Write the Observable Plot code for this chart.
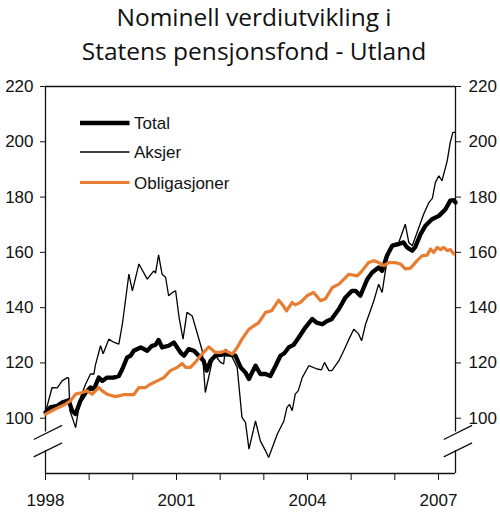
<!DOCTYPE html>
<html>
<head>
<meta charset="utf-8">
<script src="https://cdn.jsdelivr.net/npm/d3@7"></script>
<script src="https://cdn.jsdelivr.net/npm/@observablehq/plot@0.6"></script>
<style>
  body { margin: 0; background: #fff; }
  #wrap { position: relative; width: 500px; height: 512px; }
  #title { height: 70px; font-family: "Open Sans", sans-serif; font-size: 24.5px; line-height: 33.5px;
           text-align: center; color: #111; padding-left: 8px; }
  #legend { position: absolute; left: 0; top: 0; pointer-events: none; }
</style>
</head>
<body>
<div id="wrap">
  <div id="title">Nominell verdiutvikling i<br>Statens pensjonsfond - Utland</div>
  <div id="chart"></div>
  <svg id="legend" width="500" height="220"></svg>
</div>
<script>
// values (decimal year, index value)
const aksjerT = [1998.00,1998.15,1998.27,1998.38,1998.50,1998.53,1998.56,1998.65,1998.69,1998.80,1998.92,1999.03,1999.11,1999.14,1999.26,1999.32,1999.45,1999.56,1999.68,1999.76,1999.91,1999.99,2000.14,2000.33,2000.48,2000.52,2000.59,2000.67,2000.75,2000.82,2000.91,2000.98,2001.06,2001.15,2001.24,2001.36,2001.47,2001.59,2001.66,2001.82,2001.89,2002.01,2002.08,2002.12,2002.24,2002.39,2002.50,2002.58,2002.66,2002.81,2002.92,2003.04,2003.11,2003.31,2003.46,2003.53,2003.59,2003.65,2003.72,2003.79,2003.88,2004.03,2004.22,2004.32,2004.39,2004.49,2004.56,2004.72,2004.83,2004.95,2005.06,2005.17,2005.24,2005.33,2005.44,2005.52,2005.63,2005.71,2005.82,2005.94,2006.09,2006.24,2006.32,2006.40,2006.51,2006.66,2006.78,2006.86,2006.93,2007.01,2007.08,2007.20,2007.27,2007.33,2007.37];
const aksjerV = [102.1,111.1,111.0,113.5,114.7,114.5,102.7,98.5,96.6,107.5,112.4,116.0,116.0,119.0,126.2,123.3,128.6,127.5,126.8,134.0,152.1,146.1,155.8,150.3,153.3,152.5,159.1,152.1,151.0,144.3,145.5,146.1,136.4,128.6,138.3,137.0,131.0,124.4,109.3,120.8,122.6,120.2,119.6,125.0,123.2,118.4,100.3,98.5,88.8,99.0,91.8,88.2,85.8,94.3,99.0,103.9,105.0,102.7,108.7,110.0,114.7,119.0,117.8,117.5,120.2,117.2,117.2,120.8,124.4,128.6,132.2,130.5,128.0,134.0,138.9,142.5,148.5,145.5,157.0,163.0,163.6,170.2,163.6,162.4,167.2,173.8,178.0,179.5,185.3,187.7,185.9,193.1,199.8,203.4,203.4];

const totalT = [1998.00,1998.11,1998.27,1998.38,1998.53,1998.61,1998.69,1998.80,1998.92,1999.03,1999.11,1999.22,1999.30,1999.41,1999.56,1999.68,1999.76,1999.87,1999.95,2000.02,2000.18,2000.33,2000.44,2000.52,2000.59,2000.67,2000.82,2000.94,2001.09,2001.17,2001.28,2001.40,2001.51,2001.62,2001.69,2001.78,2001.89,2002.12,2002.35,2002.47,2002.58,2002.66,2002.73,2002.81,2002.92,2003.04,2003.15,2003.27,2003.38,2003.47,2003.57,2003.68,2003.80,2003.95,2004.11,2004.21,2004.34,2004.45,2004.55,2004.72,2004.87,2005.02,2005.10,2005.21,2005.37,2005.48,2005.63,2005.71,2005.82,2005.94,2006.09,2006.20,2006.28,2006.40,2006.47,2006.59,2006.70,2006.85,2007.01,2007.16,2007.27,2007.35,2007.39];
const totalV = [102.1,103.9,104.5,105.7,106.5,102.7,101.5,106.3,109.3,111.1,110.5,114.7,113.5,114.7,114.7,115.3,117.8,122.0,122.6,124.4,125.6,124.4,126.2,126.5,128.3,125.6,126.2,127.4,123.8,122.6,125.0,124.4,122.6,120.8,117.2,120.8,122.6,123.2,122.6,118.4,116.5,114.2,116.5,119.0,116.0,116.0,115.3,119.0,122.6,123.5,125.6,126.5,129.2,132.8,135.9,134.6,134.0,135.2,135.8,139.5,143.7,146.1,146.1,144.3,150.3,152.7,154.5,153.3,158.8,162.4,163.0,163.6,161.8,160.6,162.0,166.6,169.6,172.0,173.2,175.6,178.7,178.9,178.0];

const obligT = [1998.00,1998.15,1998.30,1998.46,1998.57,1998.69,1998.84,1998.95,1999.07,1999.22,1999.30,1999.41,1999.60,1999.79,2000.02,2000.14,2000.29,2000.40,2000.56,2000.71,2000.86,2001.02,2001.13,2001.21,2001.32,2001.43,2001.55,2001.74,2001.89,2002.01,2002.12,2002.28,2002.39,2002.50,2002.66,2002.77,2002.88,2003.04,2003.18,2003.34,2003.43,2003.52,2003.65,2003.72,2003.84,2003.99,2004.14,2004.30,2004.41,2004.57,2004.72,2004.95,2005.14,2005.25,2005.40,2005.52,2005.63,2005.75,2005.86,2006.01,2006.13,2006.24,2006.36,2006.51,2006.63,2006.74,2006.82,2006.89,2006.97,2007.05,2007.12,2007.20,2007.27,2007.35];
const obligV = [101.5,102.7,103.9,105.1,106.3,108.7,109.3,109.9,108.7,111.1,109.9,108.7,107.8,108.5,108.5,111.1,111.1,112.3,113.5,114.7,117.2,118.4,119.8,118.4,118.4,120.2,122.6,125.8,123.8,123.8,124.4,123.2,125.6,128.6,132.2,133.4,134.5,138.3,138.9,142.7,141.0,138.8,141.9,141.0,141.9,144.3,145.5,142.5,143.2,147.3,148.5,152.1,151.5,153.3,156.3,157.0,156.3,155.2,156.3,156.3,155.8,154.0,154.3,157.0,158.8,159.0,161.2,160.0,161.8,161.0,161.8,160.6,161.0,159.4];

const yTicks = [100, 120, 140, 160, 180, 200, 220];
const yearTicks = [1998, 1999, 2000, 2001, 2002, 2003, 2004, 2005, 2006, 2007];
const yearLabels = [1998, 2001, 2004, 2007];

const xDomain = [1998, 2007.39];
const yDomain = [80, 220];
const breakLo = 88.3, breakHi = 95.0;

const toRows = (ts, vs) => ts.map((t, i) => ({t, v: vs[i]}));
const aksjer = toRows(aksjerT, aksjerV);
const total = toRows(totalT, totalV);
const oblig = toRows(obligT, obligV);

// the two slanted break marks on each vertical axis
const slashes = [];
for (const x of xDomain) {
  for (const y of [breakLo, breakHi - 0.4]) {
    slashes.push({x1: x - 0.27, y1: y - 2.3, x2: x + 0.38, y2: y + 2.8});
  }
}

const orange = "#E87D31";

const chart = Plot.plot({
  width: 500,
  height: 442,
  marginTop: 16,
  marginBottom: 39,
  marginLeft: 45,
  marginRight: 45,
  x: {domain: xDomain, label: null},
  y: {domain: yDomain, label: null},
  style: {fontFamily: "'Liberation Sans', Arial, sans-serif", fontSize: "17px", color: "#111", background: "#fff", overflow: "visible"},
  marks: [
    Plot.ruleY([yDomain[1], yDomain[0]], {x1: xDomain[0], x2: xDomain[1], stroke: "#111", strokeWidth: 1.3}),
    Plot.ruleX(xDomain, {y1: yDomain[0], y2: breakLo, stroke: "#111", strokeWidth: 1.3}),
    Plot.ruleX(xDomain, {y1: breakHi, y2: yDomain[1], stroke: "#111", strokeWidth: 1.3}),
    Plot.link(slashes, {x1: "x1", y1: "y1", x2: "x2", y2: "y2", stroke: "#111", strokeWidth: 1.3}),
    Plot.axisY({ticks: yTicks, anchor: "left", tickSize: 5, tickPadding: 7, tickFormat: d => d, stroke: "#111"}),
    Plot.axisY({ticks: yTicks, anchor: "right", tickSize: 5, tickPadding: 8, tickFormat: d => d, stroke: "#111"}),
    Plot.axisX({ticks: yearTicks, anchor: "bottom", tickSize: 7, tickPadding: 13,
      tickFormat: d => yearLabels.includes(d) ? String(d) : "", stroke: "#111"}),
    Plot.line(aksjer, {x: "t", y: "v", stroke: "#000", strokeWidth: 1.3, strokeLinejoin: "miter"}),
    Plot.line(total, {x: "t", y: "v", stroke: "#000", strokeWidth: 4.3, strokeLinejoin: "round"}),
    Plot.line(oblig, {x: "t", y: "v", stroke: orange, strokeWidth: 3.2, strokeLinejoin: "round"})
  ]
});
document.getElementById("chart").append(chart);

// legend drawn over the upper-left corner of the plot
const legendItems = ["Total", "Aksjer", "Obligasjoner"];
const legendColors = ["#000", "#000", orange];
const legendWidths = [4.3, 1.3, 3.2];
const leg = d3.select("#legend");
const row = leg.selectAll("g").data(legendItems).join("g")
  .attr("transform", (d, i) => `translate(0, ${[123, 152, 182.5][i]})`);
row.append("line").attr("x1", 80).attr("x2", 129.5).attr("y1", 0).attr("y2", 0)
  .attr("stroke", (d, i) => legendColors[i]).attr("stroke-width", (d, i) => legendWidths[i]);
row.append("text").attr("x", 134).attr("y", 6.2).text(d => d)
  .attr("font-family", "'Liberation Sans', Arial, sans-serif").attr("font-size", 17).attr("fill", "#111");
</script>
</body>
</html>
